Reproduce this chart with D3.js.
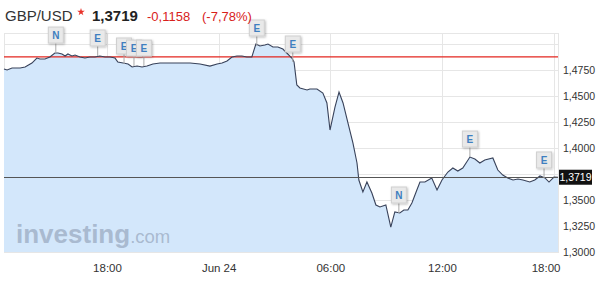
<!DOCTYPE html>
<html>
<head>
<meta charset="utf-8">
<script src="https://cdn.jsdelivr.net/npm/d3@7"></script>
<style>
  body { margin: 0; background: #fff; }
  svg { font-family: "Liberation Sans", Arial, sans-serif; }
</style>
</head>
<body>
<div id="chart"></div>
<script>
var times = [
  "2016-06-23 12:28","2016-06-23 12:38","2016-06-23 12:54","2016-06-23 13:03","2016-06-23 13:20","2016-06-23 13:36",
  "2016-06-23 13:58","2016-06-23 14:14","2016-06-23 14:24","2016-06-23 14:40","2016-06-23 14:56","2016-06-23 15:12",
  "2016-06-23 15:22","2016-06-23 15:35","2016-06-23 15:45","2016-06-23 15:54","2016-06-23 16:07","2016-06-23 16:17",
  "2016-06-23 16:33","2016-06-23 16:49","2016-06-23 17:05","2016-06-23 17:21","2016-06-23 17:37","2016-06-23 17:54",
  "2016-06-23 18:10","2016-06-23 18:26","2016-06-23 18:35","2016-06-23 18:52","2016-06-23 19:08","2016-06-23 19:21",
  "2016-06-23 19:37","2016-06-23 19:53","2016-06-23 20:09","2016-06-23 20:28","2016-06-23 20:51","2016-06-23 21:23",
  "2016-06-23 21:55","2016-06-23 22:28","2016-06-23 23:00","2016-06-23 23:32","2016-06-23 23:55",
  "2016-06-24 00:11","2016-06-24 00:27","2016-06-24 00:43","2016-06-24 00:59","2016-06-24 01:15","2016-06-24 01:31",
  "2016-06-24 01:47","2016-06-24 02:00","2016-06-24 02:13","2016-06-24 02:29","2016-06-24 02:39","2016-06-24 02:55",
  "2016-06-24 03:11","2016-06-24 03:27","2016-06-24 03:40","2016-06-24 03:56","2016-06-24 04:03","2016-06-24 04:12",
  "2016-06-24 04:22","2016-06-24 04:45","2016-06-24 04:54","2016-06-24 05:17","2016-06-24 05:36","2016-06-24 05:49",
  "2016-06-24 05:59","2016-06-24 06:15","2016-06-24 06:28","2016-06-24 06:41","2016-06-24 06:57","2016-06-24 07:13",
  "2016-06-24 07:26","2016-06-24 07:32","2016-06-24 07:45","2016-06-24 07:58","2016-06-24 08:14","2016-06-24 08:27",
  "2016-06-24 08:40","2016-06-24 08:59","2016-06-24 09:15","2016-06-24 09:28","2016-06-24 09:44","2016-06-24 09:57",
  "2016-06-24 10:10","2016-06-24 10:23","2016-06-24 10:39","2016-06-24 10:49","2016-06-24 11:05","2016-06-24 11:27",
  "2016-06-24 11:44","2016-06-24 12:00","2016-06-24 12:19","2016-06-24 12:35","2016-06-24 12:51","2016-06-24 13:07",
  "2016-06-24 13:30","2016-06-24 13:46","2016-06-24 14:02","2016-06-24 14:18","2016-06-24 14:44","2016-06-24 15:00",
  "2016-06-24 15:16","2016-06-24 15:32","2016-06-24 15:49","2016-06-24 16:05","2016-06-24 16:21","2016-06-24 16:43",
  "2016-06-24 16:59","2016-06-24 17:16","2016-06-24 17:32","2016-06-24 17:45","2016-06-24 18:01","2016-06-24 18:14"
];
var rates = [
  1.4760,1.4750,1.4769,1.4769,1.4769,1.4779,
  1.4817,1.4865,1.4856,1.4856,1.4875,1.4913,
  1.4913,1.4904,1.4885,1.4904,1.4885,1.4894,
  1.4875,1.4865,1.4875,1.4875,1.4885,1.4875,
  1.4875,1.4865,1.4827,1.4817,1.4808,1.4779,
  1.4788,1.4779,1.4788,1.4808,1.4817,1.4817,
  1.4817,1.4817,1.4808,1.4788,1.4808,
  1.4817,1.4837,1.4875,1.4885,1.4885,1.4875,
  1.4875,1.5000,1.4981,1.4990,1.5000,1.4971,
  1.4971,1.4952,1.4913,1.4865,1.4827,1.4606,
  1.4577,1.4558,1.4567,1.4567,1.4529,1.4433,
  1.4173,1.4394,1.4538,1.4433,1.4240,1.4048,
  1.3856,1.3692,1.3577,1.3673,1.3567,1.3452,
  1.3433,1.3452,1.3240,1.3385,1.3375,1.3404,
  1.3404,1.3471,1.3596,1.3673,1.3673,1.3712,
  1.3596,1.3692,1.3769,1.3808,1.3779,1.3808,
  1.3913,1.3894,1.3856,1.3885,1.3904,1.3788,
  1.3740,1.3712,1.3692,1.3702,1.3692,1.3673,
  1.3692,1.3731,1.3712,1.3673,1.3721,1.3719
];

var eventTimes = ["2016-06-23 15:15","2016-06-23 17:30","2016-06-23 18:55","2016-06-23 19:27","2016-06-23 19:59",
                  "2016-06-24 02:03","2016-06-24 03:59","2016-06-24 09:41","2016-06-24 13:30","2016-06-24 17:29"];
var eventLabels = ["N","E","E","E","E","E","E","N","E","E"];

var yTicks = [1.3000,1.3250,1.3500,1.3750,1.4000,1.4250,1.4500,1.4750,1.5000];
var xTicks = ["2016-06-23 18:00","2016-06-24 00:00","2016-06-24 06:00","2016-06-24 12:00","2016-06-24 18:00"];

var symbol = "GBP/USD";
var lastPrice = 1.3719;
var prevClose = 1.4877;
var change = "-0,1158";
var changePct = "(-7,78%)";

var parse = d3.timeParse("%Y-%m-%d %H:%M");
var fmtNum = function (v) { return d3.format(".4f")(v).replace(".", ","); };

var data = [];
for (var i = 0; i < times.length && i < rates.length; i++) {
  data.push({ t: parse(times[i]), v: rates[i] });
}

var width = 600, height = 290;
var plotL = 4, plotR = 558, plotT = 33, plotB = 252;

var svg = d3.select('#chart').append('svg')
  .attr('width', width)
  .attr('height', height);

var x = d3.scaleTime()
  .domain([data[0].t, data[data.length - 1].t])
  .range([plotL, plotR]);

var y = d3.scaleLinear()
  .domain([1.3, 1.5106])
  .range([plotB, plotT]);

// grid
svg.append('g').selectAll('line')
  .data(yTicks)
  .enter().append('line')
  .attr('x1', plotL).attr('x2', plotR)
  .attr('y1', function (d) { return Math.round(y(d)) + 0.5; })
  .attr('y2', function (d) { return Math.round(y(d)) + 0.5; })
  .attr('stroke', '#e6e6e6');

svg.append('g').selectAll('line')
  .data(xTicks)
  .enter().append('line')
  .attr('y1', plotT).attr('y2', plotB)
  .attr('x1', function (d) { return Math.round(x(parse(d))) + 0.5; })
  .attr('x2', function (d) { return Math.round(x(parse(d))) + 0.5; })
  .attr('stroke', '#e6e6e6');

svg.append('rect')
  .attr('x', plotL + 0.5).attr('y', plotT + 0.5)
  .attr('width', plotR - plotL).attr('height', plotB - plotT)
  .attr('fill', 'none')
  .attr('stroke', '#e6e6e6');

// area + line
var area = d3.area()
  .x(function (d) { return x(d.t); })
  .y0(plotB)
  .y1(function (d) { return y(d.v); });

svg.append('path')
  .datum(data)
  .attr('d', area)
  .attr('fill', '#d3e7fb');

// watermark
var wm = svg.append('text')
  .attr('x', 16).attr('y', 243)
  .attr('fill', '#9eaec4')
  .attr('fill-opacity', 0.8);
wm.append('tspan').attr('font-size', '26px').attr('font-weight', 'bold').text('investing');
wm.append('tspan').attr('font-size', '18.5px').text('.com');

var line = d3.line()
  .x(function (d) { return x(d.t); })
  .y(function (d) { return y(d.v); });

// previous close and last price lines
svg.append('line')
  .attr('x1', plotL).attr('x2', plotR)
  .attr('y1', y(prevClose)).attr('y2', y(prevClose))
  .attr('stroke', '#e3261f')
  .attr('stroke-width', 1.2);

svg.append('path')
  .datum(data)
  .attr('d', line)
  .attr('fill', 'none')
  .attr('stroke', '#38425a')
  .attr('stroke-width', 1.1);

svg.append('line')
  .attr('x1', plotL).attr('x2', plotR)
  .attr('y1', Math.round(y(lastPrice)) + 0.5).attr('y2', Math.round(y(lastPrice)) + 0.5)
  .attr('stroke', '#555');

// y axis labels
var yAxis = svg.append('g')
  .attr('transform', 'translate(' + plotR + ',0)')
  .call(d3.axisRight(y).tickValues(yTicks.filter(function (d) {
      return d < 1.49 && Math.abs(y(d) - y(lastPrice)) > 10;
    })).tickFormat(fmtNum).tickSize(0).tickPadding(5));
yAxis.select('.domain').remove();
yAxis.selectAll('text')
  .attr('fill', '#333')
  .attr('font-size', '10.5px')
  .attr('font-family', '"Liberation Sans", Arial, sans-serif');

// last price tag
var ly = y(lastPrice);
svg.append('rect')
  .attr('x', 559).attr('y', ly - 7.5)
  .attr('width', 33).attr('height', 15)
  .attr('fill', '#111');
svg.append('text')
  .attr('x', 575.5).attr('y', ly + 4)
  .attr('text-anchor', 'middle')
  .attr('fill', '#fff')
  .attr('font-size', '10.5px')
  .text(fmtNum(lastPrice));

// x axis labels
var xFmt = function (d) {
  return d.getHours() === 0 ? d3.timeFormat("%b %d")(d).replace(" 0", " ") : d3.timeFormat("%H:%M")(d);
};
var xAxis = svg.append('g')
  .attr('transform', 'translate(0,' + plotB + ')')
  .call(d3.axisBottom(x).tickValues(xTicks.map(parse)).tickFormat(xFmt).tickSize(0).tickPadding(12));
xAxis.select('.domain').remove();
xAxis.selectAll('text')
  .attr('fill', '#333')
  .attr('font-size', '11.5px')
  .attr('font-family', '"Liberation Sans", Arial, sans-serif');
xAxis.selectAll('.tick').each(function (d) {
  var t = d3.select(this).select('text');
  var w = t.node().getComputedTextLength();
  var over = x(d) + w / 2 - (plotR + 2);
  if (over > 0) t.attr('x', -over);
});

// event flags
var bisect = d3.bisector(function (d) { return d.t; }).left;
var defs = svg.append('defs');
var flt = defs.append('filter').attr('id', 'sh').attr('x', '-30%').attr('y', '-30%').attr('width', '160%').attr('height', '160%');
flt.append('feDropShadow').attr('dx', 1).attr('dy', 1).attr('stdDeviation', 1).attr('flood-color', '#000').attr('flood-opacity', 0.25);

var flags = svg.append('g');
for (var k = 0; k < eventTimes.length; k++) {
  var et = parse(eventTimes[k]);
  var j = Math.min(bisect(data, et), data.length - 1);
  var px = x(et), py = y(data[j].v);
  var bw = 15, bh = 16, gap = 10;
  flags.append('line')
    .attr('x1', px).attr('x2', px)
    .attr('y1', py - gap).attr('y2', py)
    .attr('stroke', '#aaa');
  flags.append('rect')
    .attr('x', px - bw / 2).attr('y', py - gap - bh)
    .attr('width', bw).attr('height', bh)
    .attr('fill', '#e9e9e9')
    .attr('stroke', '#d0d0d0')
    .attr('filter', 'url(#sh)');
  flags.append('text')
    .attr('x', px).attr('y', py - gap - 4)
    .attr('text-anchor', 'middle')
    .attr('fill', '#3f7fc0')
    .attr('font-size', '10px')
    .attr('font-weight', 'bold')
    .text(eventLabels[k]);
}

// header
var head = svg.append('g');
head.append('text').attr('x', 5).attr('y', 21)
  .attr('font-size', '15px').attr('fill', '#333').text(symbol);
head.append('path')
  .attr('transform', 'translate(81,12)')
  .attr('d', d3.symbol().type(d3.symbolStar).size(18)())
  .attr('fill', '#e8332b');
head.append('text').attr('x', 92).attr('y', 21)
  .attr('font-size', '15px').attr('font-weight', 'bold').attr('fill', '#222').text(fmtNum(lastPrice));
head.append('text').attr('x', 147).attr('y', 21)
  .attr('font-size', '13px').attr('fill', '#d8211b').text(change);
head.append('text').attr('x', 202).attr('y', 21)
  .attr('font-size', '13px').attr('fill', '#d8211b').text(changePct);
</script>
</body>
</html>
